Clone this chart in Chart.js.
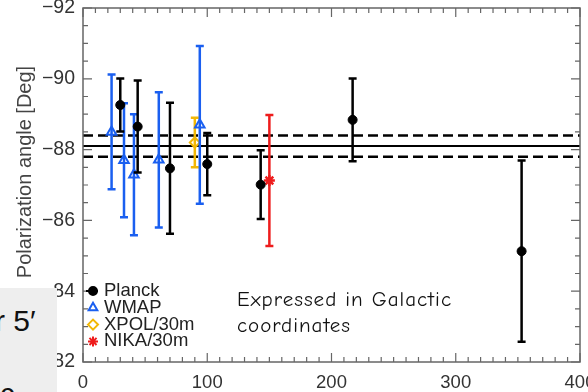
<!DOCTYPE html>
<html>
<head>
<meta charset="utf-8">
<script src="https://cdn.jsdelivr.net/npm/chart.js@4.4.0/dist/chart.umd.min.js"></script>
<style>
  html, body { margin: 0; padding: 0; background: #fff; }
  #wrap { position: relative; width: 588px; height: 392px; overflow: hidden; }
  #slideBox { position: absolute; left: 0; top: 288px; width: 57px; height: 104px; background: #eeeeee; overflow: hidden; font-family: 'Liberation Sans', Arial, sans-serif; color: #111; }
  #t1 { position: absolute; left: -5px; top: 16px; font-size: 30px; white-space: nowrap; }
  #t2 { position: absolute; left: 0px; top: 90px; font-size: 29px; }
</style>
</head>
<body>
<div id="wrap">
  <canvas id="polChart" width="588" height="392"></canvas>
  <div id="slideBox"><span id="t1">r 5′</span><span id="t2">c</span></div>
</div>
<script>
// Planck, WMAP, XPOL and NIKA polarization angles vs frequency
const planckFreq = [30, 44, 70, 100, 143, 217, 353];
const planckAngle = [-89.26, -88.65, -87.47, -87.59, -87.01, -88.84, -85.13];
const planckErr = [0.75, 1.30, 1.85, 0.88, 0.97, 1.17, 2.56];

const wmapFreq = [23, 33, 41, 61, 94];
const wmapAngle = [-88.50, -87.70, -87.29, -87.71, -88.70];
const wmapErr = [1.62, 1.61, 1.71, 1.91, 2.23];

const xpolFreq = [90];
const xpolAngle = [-88.20];
const xpolErr = [0.70];

const nikaFreq = [150];
const nikaAngle = [-87.13];
const nikaErr = [1.85];

const meanAngle = -88.1;
const meanErr = 0.3;

const xTicks = [0, 100, 200, 300, 400];
const yTicks = [-92, -90, -88, -86, -84, -82];

const BLUE = '#1a5ff0';
const GOLD = '#f2b705';
const RED = '#ee1c1c';

const toPts = (xs, ys) => xs.map((x, i) => ({x: x, y: ys[i]}));
const flat = v => [{x: 0, y: v}, {x: 400, y: v}];

// vertical error bars with small caps, drawn just before each dataset's markers
const errorBars = {
    id: 'errorBars',
    beforeDatasetDraw(chart, args) {
        const ds = chart.data.datasets[args.index];
        if (!ds.errors) return;
        const ctx = chart.ctx;
        const x = chart.scales.x, y = chart.scales.y;
        ctx.save();
        ctx.strokeStyle = ds.barColor;
        ctx.lineWidth = 2.5;
        ds.data.forEach((p, i) => {
            const px = x.getPixelForValue(p.x);
            const top = y.getPixelForValue(p.y - ds.errors[i]);
            const bot = y.getPixelForValue(p.y + ds.errors[i]);
            ctx.beginPath();
            ctx.moveTo(px, top); ctx.lineTo(px, bot);
            ctx.moveTo(px - 4, top); ctx.lineTo(px + 4, top);
            ctx.moveTo(px - 4, bot); ctx.lineTo(px + 4, bot);
            ctx.stroke();
        });
        ctx.restore();
    }
};

// IDL-style frame with inward ticks, legend, titles
const decorations = {
    id: 'decorations',
    afterDraw(chart) {
        const ctx = chart.ctx;
        const a = chart.chartArea;
        const x = chart.scales.x, y = chart.scales.y;
        ctx.save();
        ctx.strokeStyle = '#666';
        ctx.lineWidth = 1.5;
        ctx.strokeRect(a.left, a.top, a.right - a.left, a.bottom - a.top);

        ctx.lineWidth = 1.2;
        ctx.beginPath();
        for (let v = 0; v <= 400; v += 10) {
            const px = x.getPixelForValue(v);
            const len = v % 100 === 0 ? 9 : 5;
            ctx.moveTo(px, a.bottom); ctx.lineTo(px, a.bottom - len);
            ctx.moveTo(px, a.top); ctx.lineTo(px, a.top + len);
        }
        for (let v = -92; v <= -82; v += 0.5) {
            const py = y.getPixelForValue(v);
            const len = v % 2 === 0 ? 9 : 5;
            ctx.moveTo(a.left, py); ctx.lineTo(a.left + len, py);
            ctx.moveTo(a.right, py); ctx.lineTo(a.right - len, py);
        }
        ctx.stroke();

        // y axis title
        ctx.fillStyle = '#444';
        ctx.font = '20px "Liberation Sans", Arial, sans-serif';
        ctx.textAlign = 'center';
        ctx.textBaseline = 'middle';
        ctx.save();
        ctx.translate(25, 172);
        ctx.rotate(-Math.PI / 2);
        ctx.fillText('Polarization angle [Deg]', 0, 0);
        ctx.restore();

        // legend
        const items = [
            {label: 'Planck', style: 'circle', color: '#000', fill: '#000', line: true},
            {label: 'WMAP', style: 'triangle', color: BLUE, fill: 'rgba(0,0,0,0)'},
            {label: 'XPOL/30m', style: 'rectRot', color: GOLD, fill: 'rgba(0,0,0,0)'},
            {label: 'NIKA/30m', style: 'star', color: RED, fill: RED}
        ];
        ctx.textAlign = 'left';
        ctx.font = '18.5px "Liberation Sans", Arial, sans-serif';
        items.forEach((it, i) => {
            const ly = 291 + i * 16.8;
            if (it.line) {
                ctx.strokeStyle = '#000';
                ctx.lineWidth = 2;
                ctx.beginPath(); ctx.moveTo(86, ly); ctx.lineTo(98, ly); ctx.stroke();
            }
            ctx.strokeStyle = it.color;
            ctx.fillStyle = it.fill;
            ctx.lineWidth = 2;
            Chart.helpers.drawPoint(ctx, {pointStyle: it.style, radius: it.style === 'circle' ? 4 : 5, rotation: 0, borderWidth: 2}, 93, ly);
            ctx.fillStyle = '#222';
            ctx.fillText(it.label, 104, ly);
        });

        // note
        ctx.fillStyle = '#111';
        ctx.font = '21px "Comic Sans MS", "Comic Neue", "DejaVu Sans", sans-serif';
        ctx.letterSpacing = '1px';
        ctx.fillText('Expressed in Galactic', 237, 300);
        ctx.fillText('coordinates', 237, 326);
        ctx.restore();
    }
};

const ctx = document.getElementById('polChart').getContext('2d');
const polChart = new Chart(ctx, {
    type: 'scatter',
    data: {
        datasets: [
            {type: 'line', data: flat(meanAngle), borderColor: '#000', borderWidth: 2, pointRadius: 0, order: 10},
            {type: 'line', data: flat(meanAngle - meanErr), borderColor: '#000', borderWidth: 2.5, borderDash: [10, 5], pointRadius: 0, order: 10},
            {type: 'line', data: flat(meanAngle + meanErr), borderColor: '#000', borderWidth: 2.5, borderDash: [10, 5], pointRadius: 0, order: 10},
            {
                label: 'Planck', data: toPts(planckFreq, planckAngle), errors: planckErr, barColor: '#000',
                pointStyle: 'circle', pointRadius: 4.5, backgroundColor: '#000', borderColor: '#000', order: 1
            },
            {
                label: 'WMAP', data: toPts(wmapFreq, wmapAngle), errors: wmapErr, barColor: BLUE,
                pointStyle: 'triangle', pointRadius: 5.5, backgroundColor: 'rgba(0,0,0,0)', borderColor: BLUE, borderWidth: 2, order: 2
            },
            {
                label: 'XPOL/30m', data: toPts(xpolFreq, xpolAngle), errors: xpolErr, barColor: GOLD,
                pointStyle: 'rectRot', pointRadius: 5, backgroundColor: 'rgba(0,0,0,0)', borderColor: GOLD, borderWidth: 2, order: 3
            },
            {
                label: 'NIKA/30m', data: toPts(nikaFreq, nikaAngle), errors: nikaErr, barColor: RED,
                pointStyle: 'star', pointRadius: 5.5, backgroundColor: RED, borderColor: RED, borderWidth: 2.5, order: 4
            }
        ]
    },
    options: {
        responsive: false,
        animation: false,
        layout: {padding: {top: 5, right: 3, left: 0, bottom: 0}},
        plugins: {legend: {display: false}, tooltip: {enabled: false}},
        scales: {
            x: {
                type: 'linear', min: 0, max: 400,
                grid: {display: false, drawTicks: false},
                border: {display: false},
                afterBuildTicks: s => { s.ticks = xTicks.map(v => ({value: v})); },
                afterFit: s => { s.height = 30; s.paddingLeft = 0; s.paddingRight = 0; },
                ticks: {color: '#333', padding: 10, maxRotation: 0, autoSkip: false,
                    font: {size: 18.5, family: '"Liberation Sans", Arial, sans-serif'},
                    callback: v => String(v)}
            },
            y: {
                type: 'linear', min: -92, max: -82, reverse: true,
                grid: {display: false, drawTicks: false},
                border: {display: false},
                afterBuildTicks: s => { s.ticks = yTicks.map(v => ({value: v})); },
                afterFit: s => { s.width = 83; s.paddingTop = 0; s.paddingBottom = 0; },
                ticks: {color: '#333', padding: 8, autoSkip: false,
                    font: {size: 19.5, family: '"Liberation Sans", Arial, sans-serif'},
                    callback: v => '\u2212' + Math.abs(v)}
            }
        }
    },
    plugins: [errorBars, decorations]
});
</script>
</body>
</html>
